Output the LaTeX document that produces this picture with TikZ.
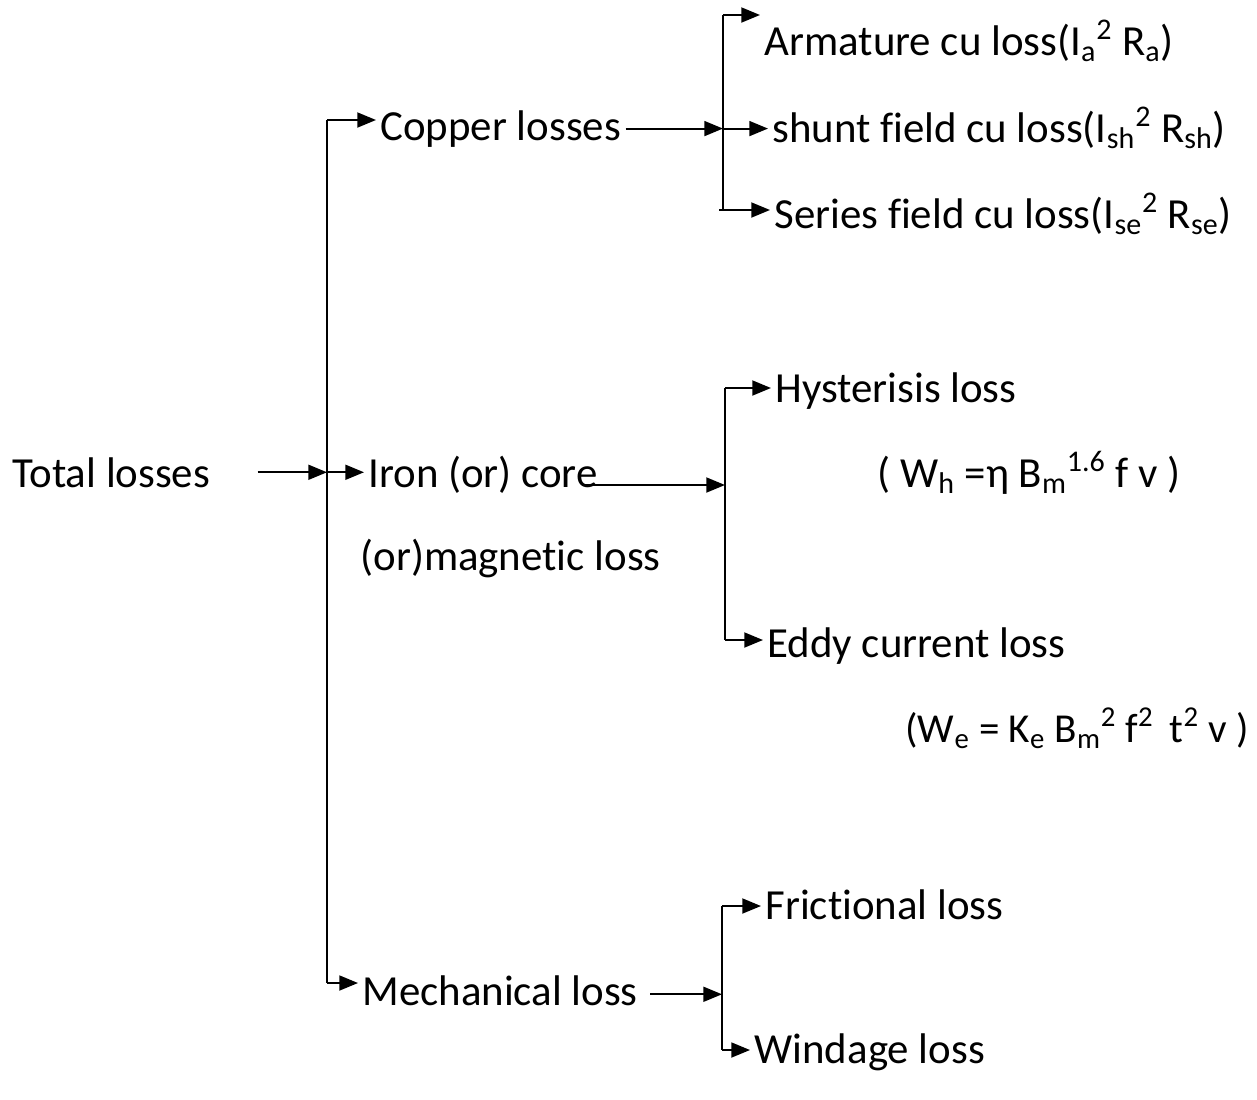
\documentclass[tikz,border=0pt]{standalone}
\usepackage{fontspec}
\setmainfont[Ligatures=NoCommon]{Carlito}
\usetikzlibrary{arrows.meta}

\begin{document}
\begin{tikzpicture}[x=0.02cm,y=-0.02cm,line width=1.1pt,
	arr/.style={-{Triangle[length=7.5mm/2,width=6mm/2]}},
	lbl/.style={anchor=base west,inner xsep=2pt,inner ysep=0pt,
		font=\fontsize{24.4}{29}\selectfont}]

\useasboundingbox (0,0) rectangle (1257,1099);

% first level
\node[lbl] (tot)  at (8,487)    {Total losses};
\node[lbl] (cop)  at (376,140)  {Copper losses};
\node[lbl] (iron) at (364,487)  {Iron (or) core};
\node[lbl] (mag)  at (356,570)  {(or)magnetic loss};
\node[lbl] (mech) at (358,1005) {Mechanical loss};

% second level
\node[lbl] (arm) at (760,55)  {Armature cu loss(I\textsubscript{a}\textsuperscript{2} R\textsubscript{a})};
\node[lbl] (shu) at (768,142) {shunt field cu loss(I\textsubscript{sh}\textsuperscript{2} R\textsubscript{sh})};
\node[lbl] (ser) at (770,228) {Series field cu loss(I\textsubscript{se}\textsuperscript{2} R\textsubscript{se})};

\node[lbl] (hys)  at (771,402) {Hysterisis loss};
\node[lbl] (hysf) at (873,487) {( W\textsubscript{h} =η B\textsubscript{m}\textsuperscript{1.6} f v )};
\node[lbl] (edd)  at (763,657) {Eddy current loss};
\node[lbl,font=\fontsize{23.4}{28}\selectfont] (eddf) at (901,742)
	{(W\textsubscript{e} = K\textsubscript{e} B\textsubscript{m}\textsuperscript{2} f\textsuperscript{2}\, t\textsuperscript{2} v )};

\node[lbl] (fri) at (761,919)  {Frictional loss};
\node[lbl] (win) at (750,1063) {Windage loss};

% main branch
\coordinate (mtop) at (327,120);
\coordinate (mbot) at (327,983);
\draw (mtop) -- (mbot);
\draw[arr] ([xshift=0.86cm]tot.east) -- (tot.east -| mtop);
\draw[arr] (tot.east -| mtop) -- (tot.east -| iron.west);
\draw[arr] (mtop) -- (mtop -| cop.west);
\draw[arr] (mbot) -- (mbot -| mech.west);

% copper branch
\coordinate (cb1) at (723,15);
\coordinate (cb2) at (723,210);
\draw (cb1) -- (cb2);
\draw[arr] (cop.east) -- (cop.east -| cb1);
\draw[arr] (cb1) -- (cb1 -| arm.west);
\draw[arr] (cop.east -| cb1) -- (cop.east -| shu.west);
\draw[arr] ([xshift=-0.08cm]cb2) -- (cb2 -| ser.west);

% iron branch
\coordinate (ib1) at (725,388);
\coordinate (ib2) at (725,640);
\draw (ib1) -- (ib2);
\draw[arr] ([xshift=-0.4cm,yshift=0.04cm]iron.base east) -- ([yshift=0.04cm]iron.base east -| ib1);
\draw[arr] (ib1) -- (ib1 -| hys.west);
\draw[arr] (ib2) -- (ib2 -| edd.west);

% mechanical branch
\coordinate (kb1) at (722,906);
\coordinate (kb2) at (722,1050);
\draw (kb1) -- (kb2);
\draw[arr] ([xshift=0.16cm,yshift=-0.08cm]mech.east) -- ([yshift=-0.08cm]mech.east -| kb1);
\draw[arr] (kb1) -- (kb1 -| fri.west);
\draw[arr] (kb2) -- (kb2 -| win.west);

\end{tikzpicture}
\end{document}
